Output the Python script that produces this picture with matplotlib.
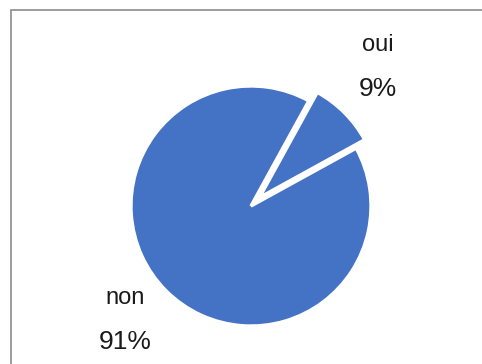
import numpy as np
import matplotlib
matplotlib.use("Agg")
import matplotlib.pyplot as plt
from matplotlib.patches import Rectangle

plt.rcParams['font.family'] = ['Liberation Sans', 'DejaVu Sans']

# réponses au sondage
labels = ['oui', 'non']
values = [9, 91]

W, H = 482, 364
fig = plt.figure(figsize=(W / 100, H / 100), dpi=100)
fig.patch.set_facecolor('white')

# cadre gris du graphique (ouvert en bas et à droite)
fig.add_artist(Rectangle((10.5 / W, -0.1), 1.2, 1.1 - 10.5 / H, transform=fig.transFigure,
                         fill=False, edgecolor='#8c8c8c', linewidth=1.2))

# axes en pixels pour placer le camembert
ax = fig.add_axes([0, 0, 1, 1])
cx, cy, r = 251, H - 206, 120

total = sum(values)
# explode est en unités de données : 10 % du rayon
wedges, _ = ax.pie(values, explode=[0.1 * r, 0], startangle=28.8, counterclock=True,
                   colors=['#4472C4', '#4472C4'], center=(cx, cy), radius=r,
                   wedgeprops=dict(edgecolor='white', linewidth=2.4))
ax.set_xlim(0, W)
ax.set_ylim(0, H)
ax.set_aspect('equal')
ax.axis('off')

# étiquettes : nom au-dessus, pourcentage en dessous
label_dist = [1.395, 1.48]
for w, name, v, d in zip(wedges, labels, values, label_dist):
    mid = np.deg2rad((w.theta1 + w.theta2) / 2)
    x = w.center[0] + d * r * np.cos(mid)
    y = w.center[1] + d * r * np.sin(mid) + 12
    ax.text(x, y + 22, name, ha='center', va='center', fontsize=17, color='#1a1a1a')
    ax.text(x, y - 22, f"{round(v / total * 100)}%", ha='center', va='center',
            fontsize=19, color='#1a1a1a')

fig.savefig('out.png', dpi=100)
